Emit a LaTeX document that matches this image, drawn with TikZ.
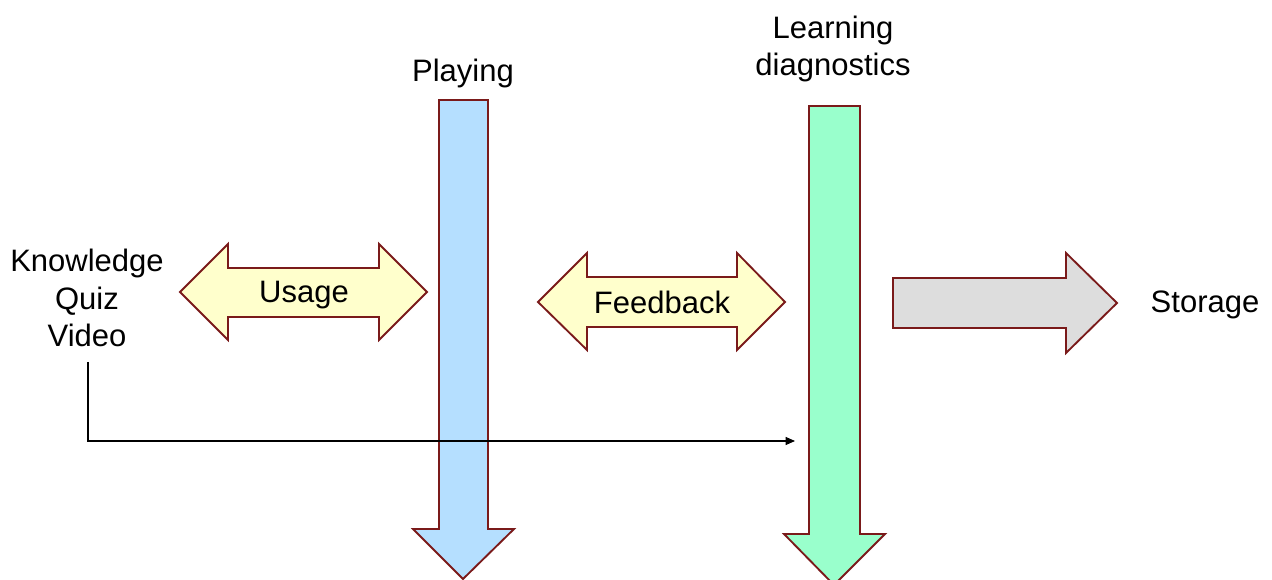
\documentclass[tikz,border=0pt]{standalone}
\usepackage{fontspec}
\setmainfont{Liberation Sans}
\usetikzlibrary{arrows.meta}
\definecolor{outline}{HTML}{7A1A1A}
\definecolor{playblue}{HTML}{B5DFFF}
\definecolor{diaggreen}{HTML}{99FFCC}
\definecolor{paleyellow}{HTML}{FFFFCC}
\definecolor{storegrey}{HTML}{DDDDDD}
\begin{document}
\begin{tikzpicture}[x=0.75pt,y=-0.75pt,
  shapeline/.style={draw=outline,line width=1.4pt,line join=miter},
  caption/.style={font=\fontsize{23.25}{28}\selectfont,inner sep=0pt,align=center},
  flow/.style={line width=0.8pt,-{Triangle[length=7pt,width=6pt]}}]
\useasboundingbox (0,0) rectangle (1272,580);

% vertical process arrows
\draw[shapeline,fill=playblue] (439,100) -- (488,100) -- (488,529) -- (514,529)
  -- (463,579) -- (413,529) -- (439,529) -- cycle;
\draw[shapeline,fill=diaggreen] (809,106) -- (860,106) -- (860,534) -- (885,534)
  -- (834,585) -- (784,534) -- (809,534) -- cycle;

% two-way exchanges
\draw[shapeline,fill=paleyellow] (180,292) -- (228,244) -- (228,268) -- (379,268)
  -- (379,244) -- (427,292) -- (379,340) -- (379,317) -- (228,317) -- (228,340) -- cycle;
\draw[shapeline,fill=paleyellow] (538,302) -- (587,253) -- (587,277) -- (737,277)
  -- (737,253) -- (785,302) -- (737,350) -- (737,327) -- (587,327) -- (587,350) -- cycle;

% output arrow
\draw[shapeline,fill=storegrey] (893,278) -- (1066,278) -- (1066,253) -- (1117,303)
  -- (1066,353) -- (1066,328) -- (893,328) -- cycle;

% labels
\node[caption] (content) at (87,298) {Knowledge\\Quiz\\Video};
\node[caption] (playing) at (463,73) {Playing};
\node[caption] (learning) at (833,49) {Learning\\diagnostics};
\node[caption] (storage) at (1205,305) {Storage};
\node[caption] (usage) at (304,295) {Usage};
\node[caption] (feedback) at (662,302) {Feedback};

% direct link from content to diagnostics
\coordinate (linkstart) at (88,362);
\coordinate (linkend) at (795,441);
\draw[flow] (linkstart) |- (linkend);
\end{tikzpicture}
\end{document}
